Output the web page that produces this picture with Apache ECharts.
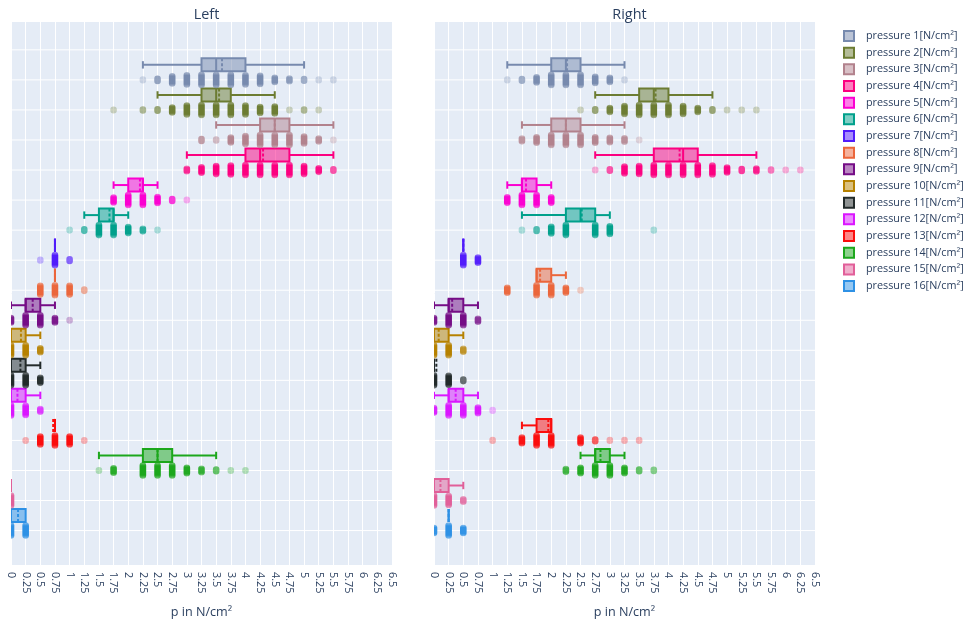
<!DOCTYPE html>
<html>
<head>
<meta charset="utf-8">
<script src="https://cdn.jsdelivr.net/npm/echarts@6/dist/echarts.min.js"></script>
<style>
  html, body { margin: 0; padding: 0; background: #fff; }
  #chart { width: 966px; height: 624px; }
</style>
</head>
<body>
<div id="chart"></div>
<script>
// ---- data -------------------------------------------------------------
const seriesNames = [
  'pressure 1[N/cm²]', 'pressure 2[N/cm²]', 'pressure 3[N/cm²]', 'pressure 4[N/cm²]',
  'pressure 5[N/cm²]', 'pressure 6[N/cm²]', 'pressure 7[N/cm²]', 'pressure 8[N/cm²]',
  'pressure 9[N/cm²]', 'pressure 10[N/cm²]', 'pressure 11[N/cm²]', 'pressure 12[N/cm²]',
  'pressure 13[N/cm²]', 'pressure 14[N/cm²]', 'pressure 15[N/cm²]', 'pressure 16[N/cm²]'
];
const panelTitles = ['Left', 'Right'];
const axisTitle = 'p in N/cm²';

// box statistics: [lower whisker, q1, median, q3, upper whisker]
const leftBoxStats = [
  [2.25, 3.25, 3.5, 4.0, 5.0],
  [2.5, 3.25, 3.5, 3.75, 4.5],
  [3.5, 4.25, 4.5, 4.75, 5.5],
  [3.0, 4.0, 4.25, 4.75, 5.5],
  [1.75, 2.0, 2.25, 2.25, 2.5],
  [1.25, 1.5, 1.75, 1.75, 2.0],
  [0.75, 0.75, 0.75, 0.75, 0.75],
  [0.75, 0.75, 0.75, 0.75, 0.75],
  [0, 0.25, 0.25, 0.5, 0.75],
  [0, 0, 0, 0.25, 0.5],
  [0, 0, 0, 0.25, 0.5],
  [0, 0, 0, 0.25, 0.5],
  [0.75, 0.75, 0.75, 0.75, 0.75],
  [1.5, 2.25, 2.5, 2.75, 3.5],
  [0, 0, 0, 0, 0],
  [0, 0, 0, 0.25, 0.25]
];
const leftMeans = [3.6, 3.55, 4.5, 4.3, 2.2, 1.68, 0.75, 0.75, 0.37, 0.17, 0.16, 0.11, 0.72, 2.5, 0, 0.12];

const rightBoxStats = [
  [1.25, 2.0, 2.25, 2.5, 3.25],
  [2.75, 3.5, 3.75, 4.0, 4.75],
  [1.5, 2.0, 2.25, 2.5, 3.25],
  [2.75, 3.75, 4.25, 4.5, 5.5],
  [1.25, 1.5, 1.5, 1.75, 2.0],
  [1.5, 2.25, 2.5, 2.75, 3.0],
  [0.5, 0.5, 0.5, 0.5, 0.5],
  [1.75, 1.75, 1.75, 2.0, 2.25],
  [0, 0.25, 0.25, 0.5, 0.75],
  [0, 0, 0, 0.25, 0.5],
  [0, 0, 0, 0, 0],
  [0, 0.25, 0.25, 0.5, 0.75],
  [1.5, 1.75, 2.0, 2.0, 2.0],
  [2.5, 2.75, 2.75, 3.0, 3.25],
  [0, 0, 0, 0.25, 0.5],
  [0.25, 0.25, 0.25, 0.25, 0.25]
];
const rightMeans = [2.27, 3.78, 2.25, 4.19, 1.57, 2.52, 0.5, 1.81, 0.31, 0.08, 0.04, 0.37, 1.95, 2.84, 0.11, 0.25];

// observations: [measured value, number of readings at that value]
const leftPoints = [
  [[2.25, 1], [2.5, 4], [2.75, 14], [3, 18], [3.25, 20], [3.5, 20], [3.75, 20], [4, 18], [4.25, 16], [4.5, 8], [4.75, 5], [5, 3], [5.25, 1], [5.5, 1]],
  [[1.75, 1], [2.25, 2], [2.5, 3], [2.75, 10], [3, 18], [3.25, 20], [3.5, 20], [3.75, 20], [4, 18], [4.25, 12], [4.5, 14], [4.75, 1], [5, 2], [5.25, 1]],
  [[3.25, 4], [3.5, 2], [3.75, 10], [4, 16], [4.25, 20], [4.5, 20], [4.75, 20], [5, 14], [5.25, 6], [5.5, 1]],
  [[3, 5], [3.25, 12], [3.5, 18], [3.75, 20], [4, 22], [4.25, 22], [4.5, 22], [4.75, 22], [5, 18], [5.25, 8], [5.5, 3]],
  [[1.75, 10], [2, 20], [2.25, 20], [2.5, 12], [2.75, 4], [3, 1]],
  [[1, 1], [1.25, 3], [1.5, 20], [1.75, 20], [2, 12], [2.25, 5], [2.5, 1]],
  [[0.5, 1], [0.75, 20], [1, 3]],
  [[0.5, 14], [0.75, 16], [1, 14], [1.25, 2]],
  [[0, 8], [0.25, 18], [0.5, 18], [0.75, 8], [1, 1]],
  [[0, 20], [0.25, 20], [0.5, 8]],
  [[0, 20], [0.25, 20], [0.5, 10]],
  [[0, 20], [0.25, 18], [0.5, 5]],
  [[0.25, 1], [0.5, 16], [0.75, 20], [1, 16], [1.25, 1]],
  [[1.5, 1], [1.75, 8], [2.25, 18], [2.5, 18], [2.75, 18], [3, 10], [3.25, 6], [3.5, 3], [3.75, 1], [4, 1]],
  [[0, 20]],
  [[0, 20], [0.25, 20]]
];
const rightPoints = [
  [[1.25, 1], [1.5, 3], [1.75, 10], [2, 20], [2.25, 20], [2.5, 20], [2.75, 12], [3, 8], [3.25, 1]],
  [[2.5, 1], [2.75, 3], [3, 8], [3.25, 16], [3.5, 20], [3.75, 20], [4, 20], [4.25, 16], [4.5, 8], [4.75, 3], [5, 1], [5.25, 1], [5.5, 1]],
  [[1.5, 5], [1.75, 10], [2, 18], [2.25, 18], [2.5, 18], [2.75, 10], [3, 8], [3.25, 6], [3.5, 1]],
  [[2.75, 1], [3, 3], [3.25, 14], [3.5, 16], [3.75, 20], [4, 20], [4.25, 20], [4.5, 20], [4.75, 18], [5, 10], [5.25, 4], [5.5, 6], [5.75, 2], [6, 1], [6.25, 1]],
  [[1.25, 10], [1.5, 18], [1.75, 18], [2, 10]],
  [[1.5, 1], [1.75, 3], [2, 12], [2.25, 18], [2.75, 18], [3, 14], [3.75, 1]],
  [[0.5, 20], [0.75, 10]],
  [[1.25, 10], [1.75, 20], [2, 20], [2.25, 10], [2.5, 1]],
  [[0, 8], [0.25, 18], [0.5, 18], [0.75, 5]],
  [[0, 18], [0.25, 18], [0.5, 5]],
  [[0, 20], [0.25, 18], [0.5, 3]],
  [[0, 8], [0.25, 18], [0.5, 18], [0.75, 10], [1, 1]],
  [[1, 1], [1.5, 10], [1.75, 18], [2, 18], [2.5, 10], [2.75, 3], [3, 1], [3.25, 1], [3.5, 1]],
  [[2.25, 5], [2.5, 10], [2.75, 18], [3, 18], [3.25, 10], [3.5, 3], [3.75, 2]],
  [[0, 20], [0.25, 18], [0.5, 5]],
  [[0, 10], [0.25, 20], [0.5, 10]]
];

// x-axis range and tick step (N/cm²)
const xMin = 0, xMax = 6.5, xStep = 0.25;
// horizontal guide rows
const rowLines = [-1, 0, 1, 2, 3, 4, 5, 6, 7, 8, 9, 10, 11, 12, 13, 14, 15];

// ---- styling ----------------------------------------------------------
const palette = ['#778AAE', '#6C7C32', '#B2828D', '#FC0080', '#FB00D1', '#00A08B', '#511CFB', '#EB663B',
                 '#750D86', '#B68100', '#222A2A', '#DA16FF', '#FB0D0D', '#1CA71C', '#E15F99', '#2E91E5'];
const FONT = '"Open Sans", "Noto Sans", sans-serif';
const TEXT = '#2a3f5f';
const ROW_PX = 30.1, PLOT_TOP = 22, PLOT_H = 544;
const yMin = -(80 - PLOT_TOP) / ROW_PX;
const yMax = yMin + PLOT_H / ROW_PX;

function rgba(hex, a) {
  const n = parseInt(hex.slice(1), 16);
  return 'rgba(' + ((n >> 16) & 255) + ',' + ((n >> 8) & 255) + ',' + (n & 255) + ',' + a + ')';
}

function boxRenderer(color) {
  return function (params, api) {
    const row = api.value(0);
    const lo = api.value(1), q1 = api.value(2), med = api.value(3), q3 = api.value(4), hi = api.value(5), mean = api.value(6);
    const yc = api.coord([0, row - 0.5])[1];
    const px = v => api.coord([v, row])[0];
    const hh = 6.5, cap = 3.7;
    const line = { stroke: color, lineWidth: 2 };
    const kids = [];
    if (lo < q1) {
      kids.push({ type: 'line', shape: { x1: px(lo), y1: yc, x2: px(q1), y2: yc }, style: line });
      kids.push({ type: 'line', shape: { x1: px(lo), y1: yc - cap, x2: px(lo), y2: yc + cap }, style: line });
    }
    if (hi > q3) {
      kids.push({ type: 'line', shape: { x1: px(q3), y1: yc, x2: px(hi), y2: yc }, style: line });
      kids.push({ type: 'line', shape: { x1: px(hi), y1: yc - cap, x2: px(hi), y2: yc + cap }, style: line });
    }
    kids.push({ type: 'rect', shape: { x: px(q1), y: yc - hh, width: px(q3) - px(q1), height: 2 * hh },
      style: { fill: rgba(color, 0.5), stroke: color, lineWidth: 2 } });
    kids.push({ type: 'line', shape: { x1: px(med), y1: yc - hh, x2: px(med), y2: yc + hh }, style: line });
    kids.push({ type: 'line', shape: { x1: px(mean), y1: yc - hh, x2: px(mean), y2: yc + hh },
      style: { stroke: color, lineWidth: 2, lineDash: [3, 2] } });
    return { type: 'group', children: kids };
  };
}

function pointRenderer(color) {
  return function (params, api) {
    const v = api.value(0), row = api.value(1), n = api.value(2), rel = api.value(3);
    const c = api.coord([v, row]);
    const r = 3.3;
    const half = 5 * rel;
    const a = 1 - Math.pow(0.7, n);
    const fill = half > 1
      ? new echarts.graphic.LinearGradient(0, 0, 0, 1, [
          { offset: 0, color: rgba(color, a * 0.55) },
          { offset: 0.22, color: rgba(color, a) },
          { offset: 0.78, color: rgba(color, a) },
          { offset: 1, color: rgba(color, a * 0.55) }
        ])
      : rgba(color, a);
    return {
      type: 'rect',
      shape: { x: c[0] - r, y: c[1] - half - r, width: 2 * r, height: 2 * half + 2 * r, r: r },
      style: { fill: fill }
    };
  };
}

function rowRenderer(params, api) {
  const cs = params.coordSys;
  const y = api.coord([0, api.value(1)])[1];
  return { type: 'line', shape: { x1: cs.x, y1: y, x2: cs.x + cs.width, y2: y },
           style: { stroke: '#ffffff', lineWidth: 1 } };
}

// ---- option -----------------------------------------------------------
const sides = [
  { stats: leftBoxStats, means: leftMeans, points: leftPoints },
  { stats: rightBoxStats, means: rightMeans, points: rightPoints }
];
const grids = [
  { left: 11, width: 381, top: PLOT_TOP, height: PLOT_H },
  { left: 434, width: 381, top: PLOT_TOP, height: PLOT_H }
];

const series = [];
sides.forEach((side, s) => {
  series.push({
    type: 'custom', name: 'rows', xAxisIndex: s, yAxisIndex: s, silent: true, z: 1,
    data: rowLines.map(r => [0, r]), renderItem: rowRenderer, legendHoverLink: false
  });
  seriesNames.forEach((name, i) => {
    const st = side.stats[i];
    series.push({
      type: 'custom', name: name, xAxisIndex: s, yAxisIndex: s, z: 3, clip: true,
      encode: { x: [1, 2, 3, 4, 5], y: 0 },
      data: [[i, st[0], st[1], st[2], st[3], st[4], side.means[i]]],
      renderItem: boxRenderer(palette[i])
    });
    const pts = side.points[i];
    const nMax = Math.max.apply(null, pts.map(p => p[1]));
    series.push({
      type: 'custom', name: name, xAxisIndex: s, yAxisIndex: s, z: 4, clip: true,
      encode: { x: 0, y: 1 },
      data: pts.map(p => [p[0], i, p[1], p[1] / nMax]),
      renderItem: pointRenderer(palette[i])
    });
  });
});

const option = {
  animation: false,
  backgroundColor: '#ffffff',
  title: panelTitles.map((t, s) => ({
    text: t,
    left: grids[s].left + grids[s].width / 2,
    top: 3,
    textAlign: 'center',
    textStyle: { fontFamily: FONT, fontSize: 14.4, fontWeight: 'normal', color: TEXT }
  })),
  legend: {
    orient: 'vertical', left: 843, top: 30, padding: 0,
    itemWidth: 10, itemHeight: 10, itemGap: 4.67,
    textStyle: { fontFamily: FONT, fontSize: 10.8, color: TEXT, lineHeight: 12, padding: [0, 0, 0, 7] },
    data: seriesNames.map((n, i) => ({
      name: n, icon: 'rect',
      itemStyle: { color: rgba(palette[i], 0.5), borderColor: palette[i], borderWidth: 2 }
    }))
  },
  grid: grids.map(g => Object.assign({ show: true, backgroundColor: '#E5ECF6', borderWidth: 0 }, g)),
  xAxis: grids.map((g, s) => ({
    gridIndex: s, type: 'value', min: xMin, max: xMax, interval: xStep,
    name: axisTitle, nameLocation: 'middle', nameGap: 41,
    nameTextStyle: { fontFamily: FONT, fontSize: 12.6, color: TEXT },
    axisLine: { show: false }, axisTick: { show: false },
    axisLabel: { rotate: -90, margin: 7, fontFamily: FONT, fontSize: 10.8, color: TEXT },
    splitLine: { show: true, lineStyle: { color: '#ffffff', width: 1 } }
  })),
  yAxis: grids.map((g, s) => ({
    gridIndex: s, type: 'value', inverse: true, min: yMin, max: yMax,
    axisLine: { show: false }, axisTick: { show: false }, axisLabel: { show: false },
    splitLine: { show: false }
  })),
  series: series
};

const chart = echarts.init(document.getElementById('chart'), null, { renderer: 'canvas' });
chart.setOption(option);
</script>
</body>
</html>
